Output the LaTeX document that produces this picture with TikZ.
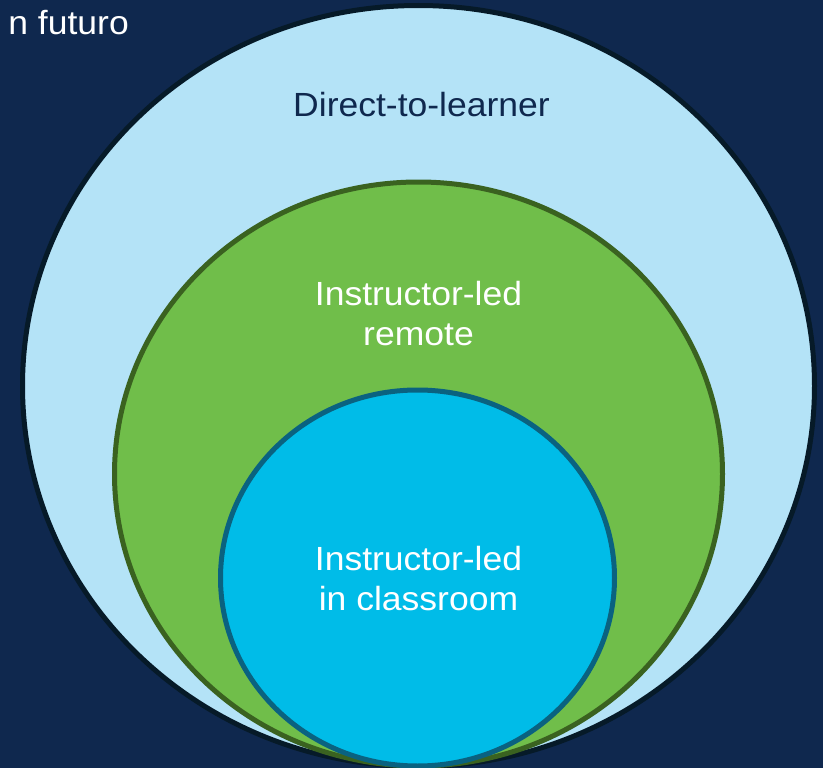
\documentclass[tikz,border=0pt]{standalone}
\usepackage{fontspec}
\setmainfont{Liberation Sans}
\definecolor{bgnavy}{RGB}{15,40,78}
\definecolor{lightblue}{RGB}{180,227,247}
\definecolor{outerline}{RGB}{6,26,40}
\definecolor{greenfill}{RGB}{112,190,74}
\definecolor{greenline}{RGB}{58,98,32}
\definecolor{bluefill}{RGB}{0,188,232}
\definecolor{blueline}{RGB}{10,98,128}
\tikzset{
  ring/.style={line width=5pt},
  label/.style={font=\fontsize{33.5}{40}\selectfont, align=center, inner sep=0pt, anchor=base, xscale=1.06, transform shape},
}
\begin{document}
\begin{tikzpicture}[x=1pt,y=-1pt]
\useasboundingbox (0,0) rectangle (823,768);
\fill[bgnavy] (0,0) rectangle (823,768);
\begin{scope}
\clip (0,0) rectangle (823,768);
\draw[ring, draw=outerline, fill=lightblue] (418.5,386) ellipse [x radius=396, y radius=380.5];
\draw[ring, draw=greenline, fill=greenfill] (418.5,474) ellipse [x radius=304, y radius=292];
\draw[ring, draw=blueline, fill=bluefill] (417.5,578) ellipse [x radius=197, y radius=188];
\node[label, text=white, anchor=base east] (fut) at (129,35) {n futuro};
\end{scope}
\node[label, text=bgnavy] (dtl) at (421.5,117) {Direct-to-learner};
\node[label, text=white] (ilr1) at (418.5,305) {Instructor-led};
\node[label, text=white] (ilr2) at (418.5,345) {remote};
\node[label, text=white] (ilc1) at (418.5,570) {Instructor-led};
\node[label, text=white] (ilc2) at (418.5,610) {in classroom};
\end{tikzpicture}
\end{document}
